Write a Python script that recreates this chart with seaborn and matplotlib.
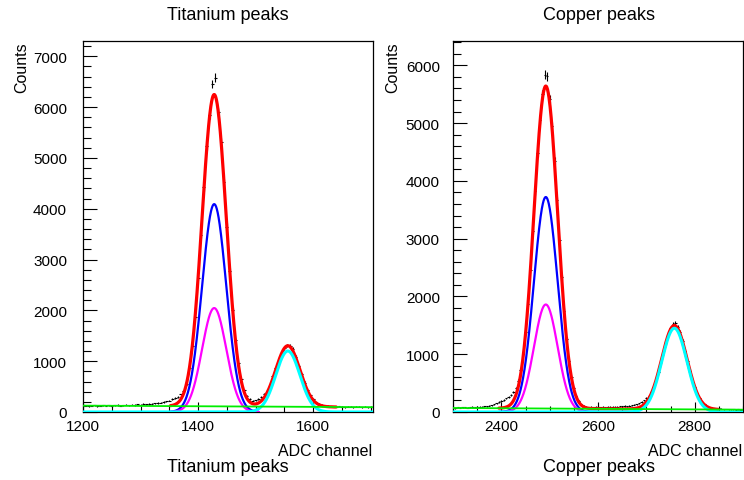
import numpy as np
import pandas as pd
import matplotlib
matplotlib.use("Agg")
import matplotlib.pyplot as plt
from matplotlib.ticker import MultipleLocator
import seaborn as sns

sns.set_style("white")
plt.rcParams['font.family'] = ['Liberation Sans', 'DejaVu Sans']
plt.rcParams['text.color'] = 'black'
plt.rcParams['xtick.color'] = 'black'
plt.rcParams['ytick.color'] = 'black'
plt.rcParams['xtick.labelcolor'] = 'black'
plt.rcParams['ytick.labelcolor'] = 'black'

# ---------------- data ----------------
ti_channel = list(range(1200, 1705, 5))
ti_counts = [118, 126, 112, 121, 130, 117, 125, 133, 122, 128,
             119, 131, 138, 127, 135, 142, 131, 146, 139, 150,
             144, 155, 148, 160, 157, 168, 175, 183, 196, 207,
             224, 250, 275, 300, 345, 420, 560, 870, 1300, 1870,
             2640, 3490, 4420, 5230, 5850, 6450, 6580, 5900, 5310, 4520,
             3650, 2780, 2010, 1420, 960, 640, 430, 310, 260, 225,
             230, 250, 300, 350, 420, 560, 700, 860, 1010, 1140,
             1250, 1310, 1300, 1240, 1080, 900, 740, 580, 440, 330,
             250, 190, 160, 140, 125, 118, 112, 108, 104, 110,
             102, 98, 105, 100, 96, 103, 99, 94, 101, 97,
             95]

cu_channel = list(range(2300, 2905, 5))
cu_counts = [75, 68, 80, 72, 78, 85, 74, 82, 88, 79,
             92, 86, 95, 101, 97, 108, 118, 132, 150, 170,
             190, 210, 235, 265, 300, 350, 420, 540, 730, 1000,
             1380, 1870, 2460, 3130, 3820, 4480, 5060, 5500, 5840, 5810,
             5420, 4950, 4350, 3660, 2970, 2330, 1750, 1270, 890, 610,
             410, 275, 190, 135, 105, 92, 85, 90, 84, 92,
             86, 80, 88, 83, 91, 86, 95, 90, 92, 100,
             96, 105, 102, 112, 118, 126, 135, 150, 175, 200,
             240, 285, 350, 440, 560, 700, 860, 1040, 1200, 1350,
             1450, 1520, 1540, 1470, 1380, 1230, 1060, 880, 710, 560,
             430, 320, 235, 175, 130, 100, 82, 70, 64, 58,
             61, 55, 50, 53, 47, 44, 49, 43, 46, 41,
             42]

# fit results (amplitude, mean, sigma)
ti_peak1 = (4090, 1428, 21)     # blue
ti_peak2 = (2045, 1428, 21)     # magenta
ti_peak3 = (1200, 1556, 21)     # cyan
ti_background = (125, 95)       # green, value at left/right end of axis
cu_peak1 = (3720, 2492, 24.5)
cu_peak2 = (1860, 2492, 24.5)
cu_peak3 = (1450, 2758, 26)
cu_background = (70, 40)

ti_xticks = [1200, 1400, 1600]
cu_xticks = [2400, 2600, 2800]


def gauss(x, p):
    a, m, s = p
    return a * np.exp(-0.5 * ((x - m) / s) ** 2)


def bg(x, b, lo, hi):
    return b[0] + (b[1] - b[0]) * (x - lo) / (hi - lo)


def panel(ax, ch, cnt, p1, p2, p3, bgp, xlim, fitr, mainr, ylim, xticks):
    ch = np.asarray(ch, float)
    cnt = np.asarray(cnt, float)
    lo, hi = xlim
    xf = np.linspace(lo, hi, 800)
    full = pd.DataFrame({"x": xf,
                         "cyan": gauss(xf, p3),
                         "green": bg(xf, bgp, lo, hi)})
    xr = np.linspace(fitr[0], fitr[1], 600)
    red = pd.DataFrame({"x": xr,
                        "y": gauss(xr, p1) + gauss(xr, p2) + gauss(xr, p3)
                        + bg(xr, bgp, lo, hi)})
    xm = np.linspace(mainr[0], mainr[1], 400)
    main = pd.DataFrame({"x": xm, "blue": gauss(xm, p1), "mag": gauss(xm, p2)})

    ax.errorbar(ch, cnt, yerr=np.sqrt(cnt), xerr=2.5, fmt='none',
                ecolor='black', elinewidth=0.8, zorder=3)
    sns.lineplot(data=red, x="x", y="y", ax=ax, color='#ff0000', lw=2.3,
                 sort=False, estimator=None, zorder=4)
    sns.lineplot(data=main, x="x", y="blue", ax=ax, color='#0000ff', lw=1.6,
                 sort=False, estimator=None, zorder=5)
    sns.lineplot(data=main, x="x", y="mag", ax=ax, color='#ff00ff', lw=1.6,
                 sort=False, estimator=None, zorder=5)
    sns.lineplot(data=full, x="x", y="cyan", ax=ax, color='#00ffff', lw=2.2,
                 sort=False, estimator=None, zorder=5)
    sns.lineplot(data=full, x="x", y="green", ax=ax, color='#00ee00', lw=1.3,
                 sort=False, estimator=None, zorder=6)

    ax.set_xlim(*xlim)
    ax.set_ylim(*ylim)
    ax.set_xlabel("")
    ax.set_ylabel("")
    ax.set_xticks(xticks)
    ax.xaxis.set_minor_locator(MultipleLocator(50))
    ax.yaxis.set_major_locator(MultipleLocator(1000))
    ax.yaxis.set_minor_locator(MultipleLocator(200))
    ax.set_axisbelow(False)
    ax.tick_params(which='both', direction='in', color='black', width=0.8,
                   bottom=True, left=True, top=False, right=False)
    ax.tick_params(axis='x', which='major', length=7.0, pad=5, labelsize=11,
                   labelcolor='black')
    ax.tick_params(axis='x', which='minor', length=4.0)
    ax.tick_params(axis='y', which='major', length=10, labelsize=11,
                   labelcolor='black')
    ax.tick_params(axis='y', which='minor', length=5.8)
    for s in ax.spines.values():
        s.set_color('black')
        s.set_linewidth(0.9)
        s.set_visible(True)
    ax.set_facecolor('white')


fig = plt.figure(figsize=(7.44, 4.81), dpi=100)
W, H = 744.0, 481.0
ax1 = fig.add_axes([83 / W, 1 - 413 / H, 290 / W, 371 / H])
ax2 = fig.add_axes([453 / W, 1 - 413 / H, 290 / W, 371 / H])

panel(ax1, ti_channel, ti_counts, ti_peak1, ti_peak2, ti_peak3, ti_background,
      (1200, 1704), (1352, 1640), (1352, 1505), (0, 7300), ti_xticks)
panel(ax2, cu_channel, cu_counts, cu_peak1, cu_peak2, cu_peak3, cu_background,
      (2300, 2900), (2395, 2848), (2395, 2600), (0, 6420), cu_xticks)
ax1.tick_params(axis='y', which='major', pad=11.5)
ax2.tick_params(axis='y', which='major', pad=9.5)

for ax, name, cx, lx in [(ax1, "Titanium peaks", 228, 22),
                         (ax2, "Copper peaks", 599, 393)]:
    fig.text(cx / W, 1 - 15 / H, name, ha='center', va='center', fontsize=13,
             color='black')
    fig.text(cx / W, 1 - 468 / H, name, ha='center', va='center', fontsize=13,
             color='black')
    fig.text(lx / W, 1 - 42 / H, "Counts", rotation=90, ha='center', va='top',
             fontsize=11.5, color='black')

fig.text(372 / W, 1 - 452 / H, "ADC channel", ha='right', va='center',
         fontsize=11.5, color='black')
fig.text(742 / W, 1 - 452 / H, "ADC channel", ha='right', va='center',
         fontsize=11.5, color='black')

fig.savefig("out.png", dpi=100, facecolor='white')
